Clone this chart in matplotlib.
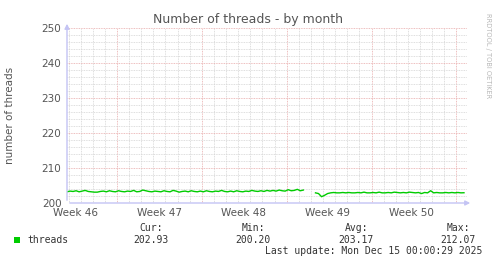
import numpy as np
import matplotlib
matplotlib.use('Agg')
from matplotlib import pyplot as plt

# threads, one value every 6 hours over the month (nan = no data)
threads = [
    203.2, 203.4, 203.3, 203.5,
    203.2, 203.4, 203.6, 203.3,
    203.2, 203.1, 203.1, 203.3,
    203.4, 203.2, 203.5, 203.3,
    203.2, 203.5, 203.3, 203.2,
    203.4, 203.3, 203.6, 203.2,
    203.3, 203.7, 203.5, 203.3,
    203.2, 203.4, 203.3, 203.2,
    203.5, 203.3, 203.2, 203.6,
    203.4, 203.1, 203.3, 203.4,
    203.2, 203.5, 203.3, 203.2,
    203.4, 203.2, 203.5, 203.3,
    203.2, 203.4, 203.3, 203.6,
    203.3, 203.2, 203.4, 203.2,
    203.5, 203.3, 203.2, 203.4,
    203.3, 203.6, 203.4, 203.3,
    203.5, 203.3, 203.6, 203.4,
    203.6, 203.4, 203.7, 203.5,
    203.4, 203.8, 203.5, 203.6,
    203.9, 203.5, 203.7, np.nan,
    np.nan, np.nan, 202.9, 202.7,
    201.8, 202.2, 202.7, 202.9,
    203.0, 202.9, 202.9, 203.0,
    202.9, 203.0, 202.9, 202.9,
    203.0, 202.9, 203.1, 202.9,
    202.9, 203.0, 202.9, 203.1,
    202.9, 202.9, 203.0, 202.9,
    203.1, 203.0, 202.9, 203.0,
    202.9, 203.1, 203.0, 202.9,
    203.0, 202.7, 203.0, 202.9,
    203.5, 202.9, 203.0, 202.9,
    202.9, 203.0, 202.9, 203.0,
    202.9, 203.0, 202.9, 202.93,
]
week_labels = ['Week 46', 'Week 47', 'Week 48', 'Week 49', 'Week 50']
stat_names = ['Cur:', 'Min:', 'Avg:', 'Max:']
stat_values = ['202.93', '200.20', '203.17', '212.07']
last_update = 'Last update: Mon Dec 15 00:00:29 2025'

W, H = 497, 264
fig = plt.figure(figsize=(W / 100, H / 100), dpi=100)
fig.patch.set_facecolor('white')

# plot area in pixels: x 67..467, y 28..203
ax = fig.add_axes([67 / W, (H - 203) / H, 400 / W, 175 / H])
days = np.arange(len(threads)) * 0.25
ax.plot(days, threads, color='#00cc00', lw=1.0, solid_joinstyle='round')

ax.set_xlim(0, 33)
ax.set_ylim(200, 250)

first_week = 4.125
ax.set_xticks(first_week + 7 * np.arange(5))
ax.set_xticks(first_week % 1 + np.arange(33), minor=True)
ax.set_xticklabels([])
ax.set_yticks(np.arange(200, 251, 10))
ax.set_yticks(np.arange(200, 251, 2), minor=True)

ax.grid(which='minor', color='#d4d4d4', linestyle=(0, (1, 1)), lw=0.6)
ax.grid(which='major', color='#e8a8a8', linestyle=(0, (1, 1)), lw=0.6)
ax.set_axisbelow(True)
ax.tick_params(which='both', length=0)
ax.tick_params(axis='y', labelsize=7.5, labelcolor='#555555', pad=4)
for s in ax.spines.values():
    s.set_visible(False)

for i, lab in enumerate(week_labels):
    ax.text(first_week - 3.43 + 6.93 * i, -0.06, lab, transform=ax.get_xaxis_transform(),
            ha='center', va='center', fontsize=7.5, color='#555555')

# axes with arrows
axis_col = '#c4c4f4'
ax.annotate('', xy=(0, 1.04), xytext=(0, 0), xycoords='axes fraction',
            arrowprops=dict(arrowstyle='-|>', color=axis_col, lw=1, mutation_scale=7))
ax.annotate('', xy=(1.015, 0), xytext=(0, 0), xycoords='axes fraction',
            arrowprops=dict(arrowstyle='-|>', color=axis_col, lw=1, mutation_scale=7))

fig.text(248 / W, 1 - 19 / H, 'Number of threads - by month', ha='center', va='center',
         fontsize=9, color='#555555')
fig.text(10 / W, 1 - 115 / H, 'number of threads', rotation=90, ha='center', va='center',
         fontsize=7.5, color='#555555')
fig.text(488 / W, 1 - 56 / H, 'RRDTOOL / TOBI OETIKER', rotation=270, ha='center', va='center',
         fontsize=4.8, color='#b8b8b8')

# legend
fig.patches.append(plt.Rectangle((14 / W, 1 - 243 / H), 6 / W, 6 / H, transform=fig.transFigure,
                                 facecolor='#00cc00', edgecolor='none'))
mono = 'DejaVu Sans Mono'
fig.text(27 / W, 1 - 240 / H, 'threads', ha='left', va='center', fontsize=7, family=mono, color='#333333')
name_right = [163, 265, 368, 470]
for i in range(4):
    fig.text(name_right[i] / W, 1 - 228 / H, stat_names[i], ha='right', va='center',
             fontsize=7, family=mono, color='#333333')
    fig.text((name_right[i] + 6) / W, 1 - 240 / H, stat_values[i], ha='right', va='center',
             fontsize=7, family=mono, color='#333333')
fig.text(482 / W, 1 - 251 / H, last_update, ha='right', va='center', fontsize=7, family=mono,
         color='#333333')

fig.savefig('out.png', dpi=100)
